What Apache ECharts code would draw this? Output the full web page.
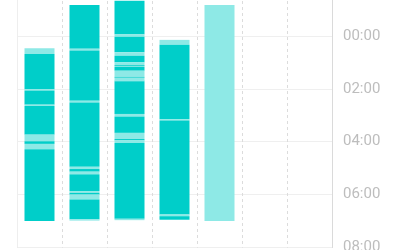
<!DOCTYPE html>
<html>
<head>
<meta charset="utf-8">
<script src="https://cdn.jsdelivr.net/npm/echarts@6/dist/echarts.min.js"></script>
<style>
html,body{margin:0;padding:0;background:#fff;}
#c{width:400px;height:250px;}
</style>
</head>
<body>
<div id="c"></div>
<script>
// categories (days, labels hidden in the reference)
const days = ['Mon', 'Tue', 'Wed', 'Thu', 'Fri', 'Sat', 'Sun'];
// y ticks, minutes relative to midnight
const yTicks = [-120, 0, 120, 240, 360, 480];
// segments per day: [startMinute, endMinute, type] ; type 0 = deep, 1 = light
const sleepDay1 = [
  [28, 41, 1], [41, 121, 0], [121, 124, 1], [124, 156, 0], [156, 159, 1],
  [159, 224, 0], [224, 239, 1], [239, 245, 0], [245, 257, 1], [257, 420, 0]
];
const sleepDay2 = [
  [-70, 29, 0], [29, 33, 1], [33, 147, 0], [147, 151, 1], [151, 297, 0],
  [297, 302, 1], [302, 308, 0], [308, 314, 1], [314, 352, 0], [352, 356, 1],
  [356, 360, 0], [360, 371, 1], [371, 416, 0], [416, 419, 1]
];
const sleepDay3 = [
  [-80, -4, 0], [-4, 2, 1], [2, 37, 0], [37, 45, 1], [45, 60, 0], [60, 66, 1],
  [66, 68, 0], [68, 70, 1], [70, 79, 0], [79, 93, 1], [93, 95, 0], [95, 100, 1],
  [100, 101, 0], [101, 103, 1], [103, 177, 0], [177, 183, 1], [183, 220, 0],
  [220, 234, 1], [234, 237, 0], [237, 243, 1], [243, 415, 0], [415, 418, 1]
];
const sleepDay4 = [
  [9, 20, 1], [20, 189, 0], [189, 192, 1], [192, 405, 0], [405, 409, 1], [409, 417, 0]
];
const sleepDay5 = [
  [-70, 420, 1]
];
const sleepDay6 = [];
const sleepDay7 = [];
const allDays = [sleepDay1, sleepDay2, sleepDay3, sleepDay4, sleepDay5, sleepDay6, sleepDay7];

const DEEP = '#00cec9';
const LIGHT = '#8ee9e6';

const data = [];
allDays.forEach((segs, i) => {
  segs.forEach(s => data.push([i, s[0], s[1], s[2]]));
});

function fmt(v) {
  const m = ((v % 1440) + 1440) % 1440;
  const h = Math.floor(m / 60), mm = m % 60;
  return String(h).padStart(2, '0') + ':' + String(mm).padStart(2, '0');
}

const chart = echarts.init(document.getElementById('c'), null, {renderer: 'canvas'});
chart.setOption({
  animation: false,
  backgroundColor: '#fff',
  grid: {left: 17, right: 68, top: -17, bottom: 2.5, containLabel: false, outerBoundsMode: 'none'},
  xAxis: {
    type: 'category',
    data: days,
    boundaryGap: true,
    axisLine: {show: false},
    axisTick: {show: false},
    axisLabel: {show: false},
    splitLine: {show: true, lineStyle: {color: '#dcdcdc', type: [3, 3], width: 1}}
  },
  yAxis: [{
    type: 'value',
    position: 'right',
    inverse: true,
    min: yTicks[0],
    max: yTicks[yTicks.length - 1],
    interval: 120,
    axisLine: {show: true, lineStyle: {color: '#dadada'}},
    axisTick: {show: false},
    axisLabel: {color: '#bdbdbd', fontSize: 15, margin: 11, fontFamily: 'Roboto', formatter: fmt},
    splitLine: {show: true, lineStyle: {color: '#efefef'}}
  }, {
    type: 'value',
    position: 'left',
    inverse: true,
    min: yTicks[0],
    max: yTicks[yTicks.length - 1],
    interval: 120,
    axisLine: {show: true, lineStyle: {color: '#eeeeee'}},
    axisTick: {show: false},
    axisLabel: {show: false},
    splitLine: {show: false}
  }],
  series: [{
    type: 'custom',
    yAxisIndex: 0,
    encode: {x: 0, y: [1, 2]},
    data: data,
    renderItem: function (params, api) {
      const x = api.value(0);
      const s = api.coord([x, api.value(1)]);
      const e = api.coord([x, api.value(2)]);
      const w = api.size([1, 0])[0] * 0.667;
      return {
        type: 'rect',
        shape: {x: s[0] - w / 2, y: s[1], width: w, height: e[1] - s[1]},
        style: {fill: api.value(3) === 1 ? LIGHT : DEEP}
      };
    }
  }]
});
</script>
</body>
</html>
